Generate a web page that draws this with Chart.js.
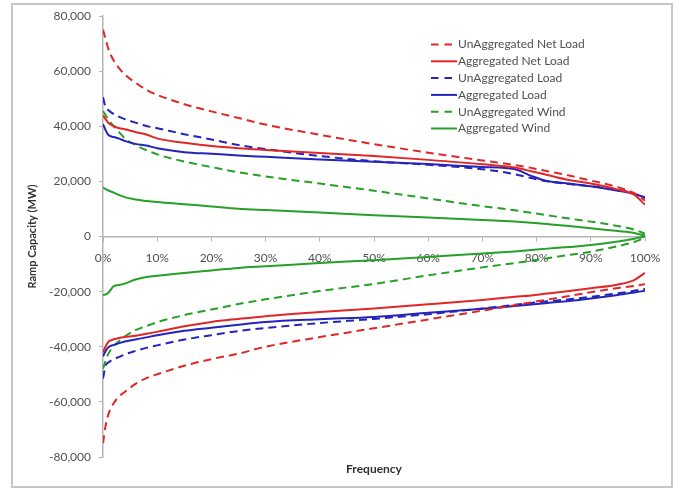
<!DOCTYPE html>
<html>
<head>
<meta charset="utf-8">
<title>Ramp Capacity</title>
<script src="https://cdn.jsdelivr.net/npm/chart.js@4.4.1/dist/chart.umd.min.js"></script>
<style>
  body { margin: 0; background: #fff; }
  #wrap { width: 678px; height: 489px; position: relative; }
</style>
</head>
<body>
<div id="wrap"><canvas id="rampChart"></canvas></div>
<script>
// frequency of exceedance (%)
const frequency = [0, 0.5, 1, 2, 3, 4, 6, 8, 10, 15, 20, 25, 30, 40, 50, 60, 70, 76, 79, 82, 86, 90, 95, 98, 100];

// upward ramps (MW)
const unaggNetUp = [75000, 71500, 68000, 63800, 61000, 58800, 55800, 53200, 51400, 48000, 45400, 43000, 40600, 36900, 33500, 30400, 27600, 25900, 24900, 23700, 22100, 20300, 17900, 15700, 13000];
const aggNetUp   = [44000, 42500, 41200, 40000, 39300, 38900, 37900, 37000, 35600, 34000, 32800, 32000, 31400, 30300, 29200, 27800, 26200, 25000, 23700, 22300, 20500, 19200, 17000, 15200, 11500];
const unaggLoadUp = [50500, 46800, 45800, 44400, 43400, 42600, 41300, 40100, 39300, 37100, 35200, 33200, 31700, 29200, 27300, 26000, 24400, 22600, 21200, 20000, 19000, 18200, 17000, 15500, 13900];
const aggLoadUp  = [40800, 38500, 36800, 36100, 35500, 34700, 33600, 33000, 32000, 30600, 30000, 29400, 28900, 27900, 27100, 26300, 25200, 24400, 22000, 20100, 19200, 18200, 16600, 15400, 14200];
const unaggWindUp = [45500, 44000, 42400, 40000, 37800, 35700, 33200, 31300, 29800, 27200, 25200, 23300, 21800, 19200, 16600, 13800, 11000, 9500, 8600, 7700, 6500, 5400, 3800, 2500, 1000];
const aggWindUp  = [17800, 17200, 16700, 15900, 15000, 14300, 13400, 12900, 12500, 11700, 10900, 10100, 9600, 8700, 7700, 6900, 6000, 5400, 5000, 4500, 3800, 3000, 2000, 1300, 300];

// downward ramps (MW)
const unaggNetDown = [-75000, -68500, -64500, -60400, -58000, -56400, -53500, -51400, -50000, -46900, -44500, -42500, -40000, -36500, -33300, -30100, -26900, -24900, -23900, -22900, -21600, -20200, -18700, -17900, -17300];
const aggNetDown   = [-42000, -39800, -38200, -37300, -36800, -36500, -36000, -35300, -34600, -32600, -31000, -29900, -28900, -27400, -26100, -24600, -23000, -21900, -21400, -20700, -19800, -18800, -17400, -15800, -13200];
const unaggLoadDown = [-51500, -46800, -45700, -44500, -43700, -42800, -41500, -40400, -39500, -37400, -35800, -34300, -33200, -31400, -29900, -28200, -26100, -24800, -24100, -23500, -22800, -21900, -20600, -19700, -19000];
const aggLoadDown  = [-43500, -41500, -40200, -39300, -38700, -38100, -37400, -36600, -35800, -34200, -33100, -32000, -31000, -30000, -29200, -27700, -26200, -25200, -24700, -24100, -23400, -22500, -21200, -20300, -19700];
const unaggWindDown = [-48000, -45000, -42500, -39800, -37900, -36300, -34000, -32500, -31100, -28500, -26500, -24500, -22800, -19800, -17200, -14100, -11200, -9600, -8800, -7900, -6700, -5500, -3500, -2000, -500];
const aggWindDown  = [-21300, -21000, -20400, -18000, -17600, -17100, -15600, -14700, -14200, -13200, -12300, -11400, -10800, -9600, -8600, -7400, -6200, -5400, -4900, -4400, -3800, -3100, -1800, -800, 0];

const RED = 'rgb(224, 38, 38)';
const BLUE = 'rgb(36, 36, 188)';
const GREEN = 'rgb(38, 160, 38)';
const AXIS = '#b4b4b4';
const TEXT = '#505050';

const series = [
  { label: 'UnAggregated Net Load', color: RED, dashed: true, up: unaggNetUp, down: unaggNetDown },
  { label: 'Aggregated Net Load', color: RED, dashed: false, up: aggNetUp, down: aggNetDown },
  { label: 'UnAggregated Load', color: BLUE, dashed: true, up: unaggLoadUp, down: unaggLoadDown },
  { label: 'Aggregated Load', color: BLUE, dashed: false, up: aggLoadUp, down: aggLoadDown },
  { label: 'UnAggregated Wind', color: GREEN, dashed: true, up: unaggWindUp, down: unaggWindDown },
  { label: 'Aggregated Wind', color: GREEN, dashed: false, up: aggWindUp, down: aggWindDown },
];

function toPoints(values) {
  return frequency.map((f, i) => ({ x: f, y: values[i] }));
}

const datasets = [];
for (const s of series) {
  for (const values of [s.up, s.down]) {
    datasets.push({
      label: s.label,
      data: toPoints(values),
      borderColor: s.color,
      borderWidth: 2,
      borderDash: s.dashed ? [8, 5] : [],
      pointRadius: 0,
      fill: false,
      cubicInterpolationMode: 'monotone',
    });
  }
}

// white background and the grey frame around the chart
const frame = {
  id: 'frame',
  beforeDraw(chart) {
    const ctx = chart.ctx;
    ctx.save();
    ctx.fillStyle = '#fff';
    ctx.fillRect(0, 0, chart.width, chart.height);
    ctx.strokeStyle = '#c6c6c6';
    ctx.lineWidth = 2;
    ctx.strokeRect(12, 4, 660, 483);
    ctx.restore();
  }
};

// legend sits inside the plot, upper right
const legendBox = {
  id: 'legendBox',
  afterDatasetsDraw(chart) {
    const ctx = chart.ctx;
    const area = chart.chartArea;
    const x0 = area.left + 328;
    const y0 = area.top + 28.5;
    const rowH = 16.8;
    ctx.save();
    ctx.font = '12px Lato';
    ctx.textBaseline = 'middle';
    series.forEach((s, i) => {
      const y = y0 + i * rowH;
      ctx.strokeStyle = s.color;
      ctx.lineWidth = 2;
      ctx.setLineDash(s.dashed ? [7.5, 6] : []);
      ctx.beginPath();
      ctx.moveTo(x0, y);
      ctx.lineTo(x0 + 26, y);
      ctx.stroke();
      ctx.fillStyle = TEXT;
      ctx.fillText(s.label, x0 + 27, y);
    });
    ctx.restore();
  }
};

const tickFont = { family: 'Lato', size: 12 };

new Chart(document.getElementById('rampChart'), {
  type: 'line',
  data: { datasets: datasets },
  options: {
    responsive: true,
    maintainAspectRatio: false,
    animation: false,
    layout: { padding: { top: 16, right: 33, bottom: 2, left: 0 } },
    plugins: {
      legend: { display: false },
      tooltip: { enabled: false },
    },
    scales: {
      x: {
        type: 'linear',
        min: 0,
        max: 100,
        position: { y: 0 },
        ticks: {
          stepSize: 10,
          autoSkip: false,
          maxRotation: 0,
          padding: 10,
          font: tickFont,
          color: TEXT,
          callback: v => v + '%',
        },
        grid: { display: true, drawOnChartArea: false, drawTicks: true, tickLength: 4, color: AXIS },
        border: { color: AXIS, width: 1.5 },
      },
      x2: {
        type: 'linear',
        min: 0,
        max: 100,
        position: 'bottom',
        ticks: { display: false },
        grid: { display: false },
        border: { display: false },
        title: {
          display: true,
          text: 'Frequency',
          color: '#303030',
          font: { family: 'Lato', size: 12, weight: 'bold' },
          padding: { top: 0, bottom: 11 },
        },
        afterFit: scale => { scale.height = 30; },
      },
      y: {
        min: -80000,
        max: 80000,
        ticks: {
          stepSize: 20000,
          padding: 8,
          font: tickFont,
          color: TEXT,
          callback: v => v.toLocaleString('en-US'),
        },
        grid: { display: true, drawOnChartArea: false, drawTicks: true, tickLength: 4, color: AXIS },
        border: { color: AXIS, width: 1.5 },
        title: {
          display: true,
          text: 'Ramp Capacity (MW)',
          color: '#303030',
          font: { family: 'Lato', size: 11, weight: 'bold' },
          padding: { top: 26, bottom: 0 },
        },
        afterFit: scale => { scale.width = 103; },
      },
    },
  },
  plugins: [frame, legendBox],
});
</script>
</body>
</html>
